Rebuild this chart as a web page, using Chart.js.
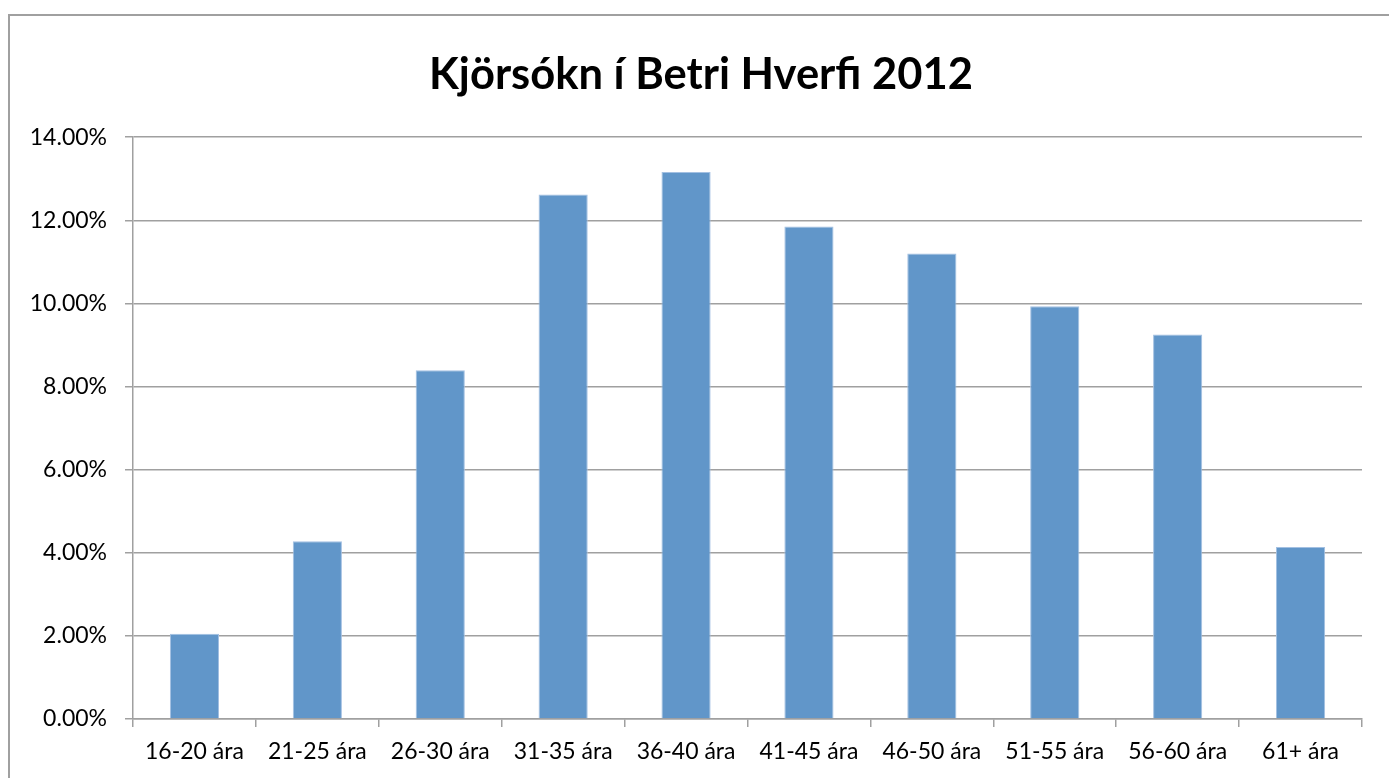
<!DOCTYPE html>
<html lang="is">
<head>
    <meta charset="UTF-8">
    <title>Kjörsókn í Betri Hverfi 2012</title>
    <script src="https://cdn.jsdelivr.net/npm/chart.js"></script>
    <style>
        html, body { margin: 0; padding: 0; background: #fff; overflow: hidden; }
        .frame {
            position: absolute; left: 8px; top: 14px;
            width: 1500px; height: 900px;
            border-left: 2px solid #a0a0a0; border-top: 2px solid #a0a0a0;
        }
        #myChart { position: absolute; left: 0; top: 0; }
    </style>
</head>
<body>
    <div class="frame"></div>
    <canvas id="myChart" width="1402" height="778" style="width:1402px;height:778px;"></canvas>

<script>
    const titulo = 'Kjörsókn í Betri Hverfi 2012'
    const aldurshopar = ['16-20 ára', '21-25 ára', '26-30 ára', '31-35 ára', '36-40 ára',
                         '41-45 ára', '46-50 ára', '51-55 ára', '56-60 ára', '61+ ára']
    const kjorsokn = [2.05, 4.28, 8.39, 12.62, 13.16, 11.85, 11.2, 9.93, 9.25, 4.14]
    const yTicks = [0, 2, 4, 6, 8, 10, 12, 14]

    const grey = '#a0a0a0'
    const font = 'Lato, "Liberation Sans", sans-serif'

    new Chart(document.getElementById('myChart'), {
        type: 'bar',
        data: {
            labels: aldurshopar,
            datasets: [{
                data: kjorsokn,
                backgroundColor: '#6196c9',
                borderColor: '#a3c0e2',
                borderWidth: 1,
                barPercentage: 0.4,
                categoryPercentage: 1
            }]
        },
        options: {
            responsive: false,
            animation: false,
            layout: { padding: 0 },
            plugins: {
                legend: { display: false },
                tooltip: { enabled: false },
                title: {
                    display: true,
                    text: titulo,
                    color: '#000',
                    font: { family: font, size: 43.5, weight: 'bold', lineHeight: 1.2 },
                    padding: { top: 49, bottom: 36 }
                }
            },
            scales: {
                x: {
                    afterFit: function (scale) { scale.height = 59 },
                    grid: { drawOnChartArea: false, drawTicks: true, tickLength: 8, color: grey, lineWidth: 1.5 },
                    border: { color: grey, width: 1.5 },
                    ticks: { color: '#000', padding: 11, maxRotation: 0, font: { family: font, size: 23, lineHeight: 1.2 } }
                },
                y: {
                    min: 0,
                    max: 14,
                    afterFit: function (scale) { scale.width = 133 },
                    afterBuildTicks: function (scale) { scale.ticks = yTicks.map(v => ({ value: v })) },
                    grid: { color: grey, lineWidth: 1.5, drawTicks: true, tickLength: 8 },
                    border: { color: grey, width: 1.5 },
                    ticks: {
                        color: '#000',
                        padding: 18,
                        font: { family: font, size: 23 },
                        callback: function (v) { return v.toFixed(2) + '%' }
                    }
                },
                // tomt bil hægra megin, svo titillinn sitji yfir allan rammann
                hægri: {
                    position: 'right',
                    afterFit: function (scale) { scale.width = 40 },
                    grid: { drawOnChartArea: false, drawTicks: false },
                    border: { display: false },
                    ticks: { display: false }
                }
            }
        }
    })
</script>
</body>
</html>
